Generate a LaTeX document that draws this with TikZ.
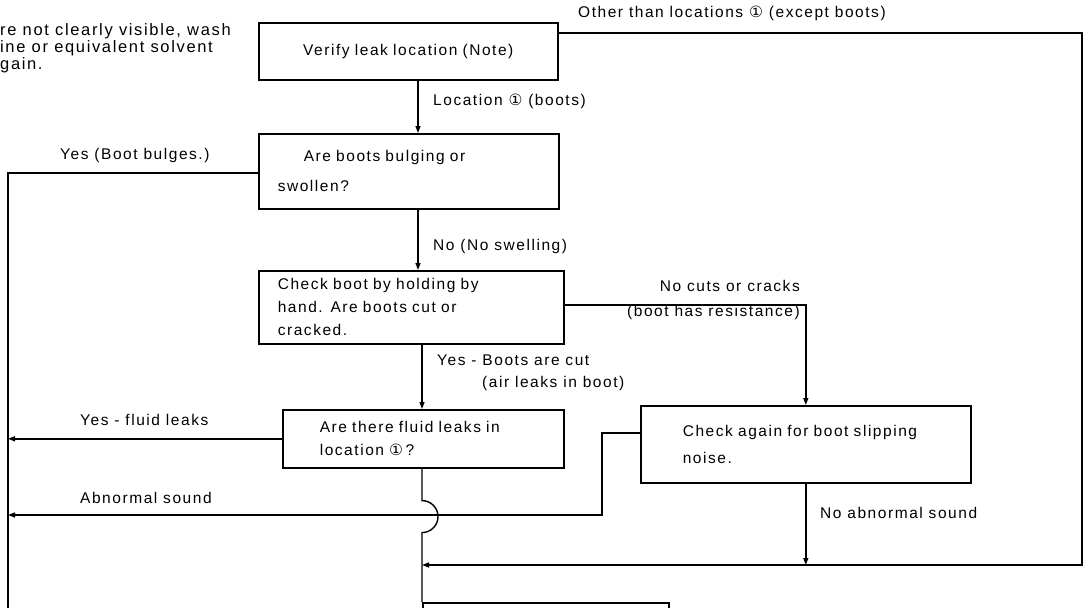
\documentclass[tikz,border=0pt]{standalone}
\usepackage{fontspec}
\setmainfont{Liberation Sans}[LetterSpace=10]
\newfontfamily\circfont{DejaVu Sans}
\usetikzlibrary{arrows.meta,positioning}
\newcommand{\locone}{{\circfont ①}}
\tikzset{
  box/.style={draw, line width=1.6pt, anchor=north west, align=left, inner ysep=0pt, font=\fontsize{15.5}{23}\selectfont},
  lbl/.style={anchor=west, inner sep=0pt, align=left, font=\fontsize{15.5}{23}\selectfont},
  pre/.style={-{Triangle[length=7pt,width=5pt]}, line width=1.4pt},
  wire/.style={line width=1.4pt},
}
\begin{document}
\begin{tikzpicture}[x=1pt,y=1pt]
\path[use as bounding box, clip] (0,0) rectangle (1085,-608);
\node[box, minimum width=299pt, minimum height=57pt, text width=279pt, inner xsep=10pt, align=center] (verify) at (258,-22) {Verify leak location (Note)};
\node[box, minimum width=300pt, minimum height=75pt, text width=262pt, inner xsep=19pt, font=\fontsize{15.5}{30}\selectfont] (bulge) at (258,-133) {\hspace*{26pt}Are boots bulging or\\swollen?};
\node[box, minimum width=305pt, minimum height=73pt, text width=267pt, inner xsep=19pt] (cutchk) at (258,-270) {Check boot by holding by\\hand. Are boots cut or\\cracked.};
\node[box, minimum width=281pt, minimum height=58pt, text width=207pt, inner xsep=37pt] (fluid) at (282,-409) {Are there fluid leaks in\\location \locone\,?};
\node[box, minimum width=330pt, minimum height=77pt, text width=246pt, inner xsep=42pt, font=\fontsize{15.5}{27}\selectfont] (slip) at (640,-405) {Check again for boot slipping\\noise.};
\node[box, minimum width=246pt, minimum height=40pt] (next) at (422,-602) {};
\node[lbl, anchor=north west, font=\fontsize{16.5}{17}\selectfont] (note) at (0,-23) {re not clearly visible, wash\\ine or equivalent solvent\\gain.};
\coordinate (colA) at (418,0);
\coordinate (colB) at (422,0);
\coordinate (leftx) at (8,0);
\coordinate (ctop) at (1082,-33);
\coordinate (cret) at (1082,-565);
\coordinate (lyes) at (8,-173);
\coordinate (lbot) at (8,-620);
\coordinate (ycut) at (0,-305);
\coordinate (yslip) at (0,-433);
\coordinate (yab) at (0,-515);
\coordinate (xab) at (602,0);
\draw[pre] (verify.south -| colA) -- (bulge.north -| colA);
\draw[pre] (verify.east |- ctop) -- (ctop) -- (cret) -- (cret -| colB);
\draw[wire] (bulge.west |- lyes) -- (lyes) -- (lbot);
\draw[pre] (bulge.south -| colA) -- (cutchk.north -| colA);
\draw[pre] (cutchk.east |- ycut) -| (slip.north);
\draw[pre] (cutchk.south -| colB) -- (fluid.north -| colB);
\draw[pre] (fluid.west) -- (fluid.west -| leftx);
\draw[pre] (slip.west |- yslip) -- (yslip -| xab) -- (yab -| xab) -- (yab -| leftx);
\draw[wire] (fluid.south -| colB) -- ++(0,-32) arc[start angle=90, end angle=-90, radius=16] -- (next.north west);
\draw[pre] (slip.south) -- (slip.south |- cret);
\node[lbl] (locA) at (433,-101) {Location \locone\ (boots)};
\node[lbl] (other) at (578,-13) {Other than locations \locone\ (except boots)};
\node[lbl] (yesbulge) at (60,-155) {Yes (Boot bulges.)};
\node[lbl] (noswell) at (433,-246) {No (No swelling)};
\node[lbl, anchor=east, align=right, font=\fontsize{15.5}{25}\selectfont] (nocut) at (800,-300) {No cuts or cracks\\(boot has resistance)};
\node[lbl, anchor=north west, font=\fontsize{15.5}{22}\selectfont] (yescut) at (437,-355) {Yes - Boots are cut\\\hspace*{45pt}(air leaks in boot)};
\node[lbl] (yesfluid) at (80,-420) {Yes - fluid leaks};
\node[lbl] (abn) at (80,-498) {Abnormal sound};
\node[lbl] (noabn) at (820,-513) {No abnormal sound};
\end{tikzpicture}
\end{document}
